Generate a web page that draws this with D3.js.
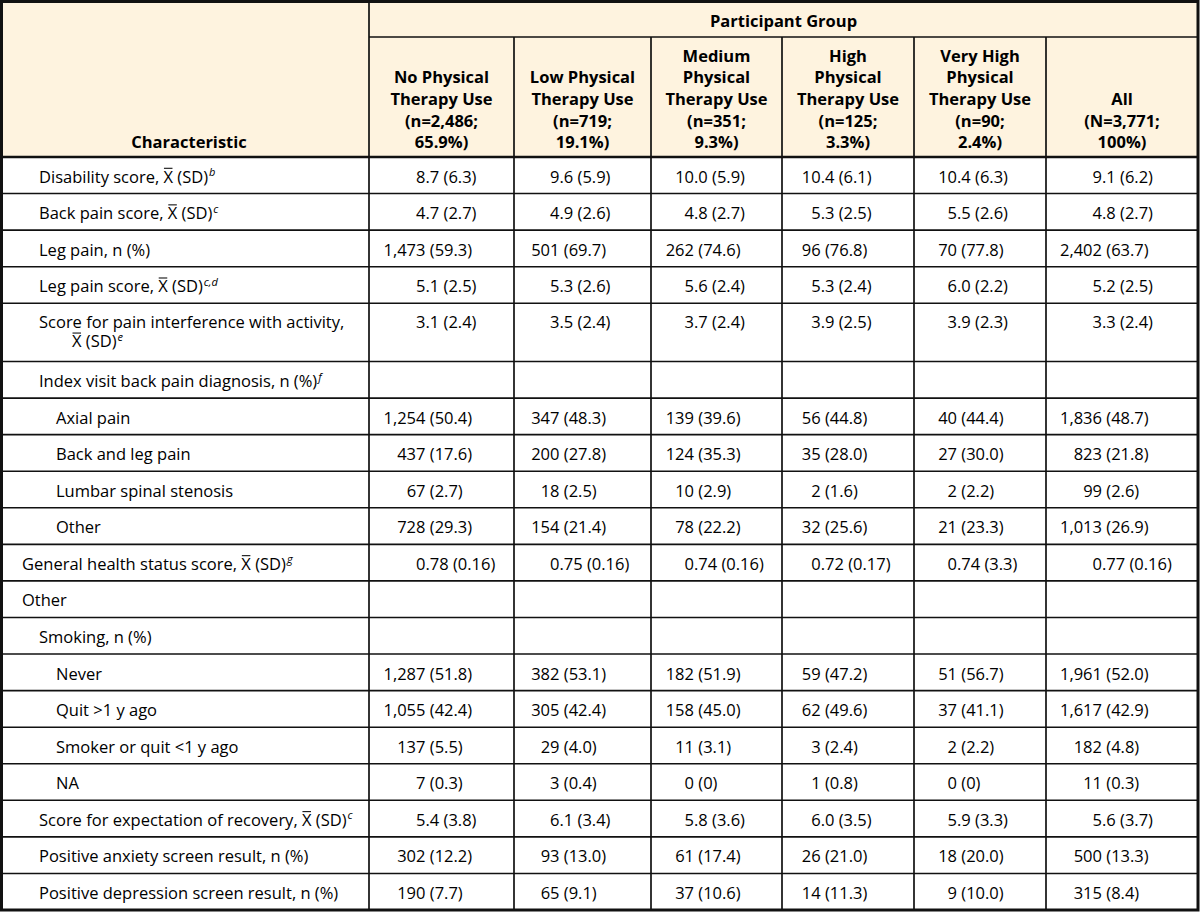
<!DOCTYPE html>
<html><head><meta charset="utf-8">
<script src="https://cdn.jsdelivr.net/npm/d3@7"></script>
<style>
body{margin:0;background:#fff}
text{font-family:"Open Sans",sans-serif;fill:#000}
</style>
</head><body>
<svg id="c" width="1200" height="912"></svg>
<script>
// ---------- DATA ----------
const groupTitle = "Participant Group";
const stubTitle = "Characteristic";
const groupLabels = [
  ["No Physical","Therapy Use","(n=2,486;","65.9%)"],
  ["Low Physical","Therapy Use","(n=719;","19.1%)"],
  ["Medium","Physical","Therapy Use","(n=351;","9.3%)"],
  ["High","Physical","Therapy Use","(n=125;","3.3%)"],
  ["Very High","Physical","Therapy Use","(n=90;","2.4%)"],
  ["All","(N=3,771;","100%)"]
];
const characteristics = [
  "Disability score, X̄ (SD)",
  "Back pain score, X̄ (SD)",
  "Leg pain, n (%)",
  "Leg pain score, X̄ (SD)",
  "Score for pain interference with activity,|X̄ (SD)",
  "Index visit back pain diagnosis, n (%)",
  "Axial pain",
  "Back and leg pain",
  "Lumbar spinal stenosis",
  "Other",
  "General health status score, X̄ (SD)",
  "Other",
  "Smoking, n (%)",
  "Never",
  "Quit >1 y ago",
  "Smoker or quit <1 y ago",
  "NA",
  "Score for expectation of recovery, X̄ (SD)",
  "Positive anxiety screen result, n (%)",
  "Positive depression screen result, n (%)"
];
const footnotes = ["b","c","","c,d","e","f","","","","","g","","","","","","","c","",""];
const levels    = [1,1,1,1,1,1,2,2,2,2,0,0,1,2,2,2,2,1,1,1];

const noPT   = ["8.7 (6.3)","4.7 (2.7)","1,473 (59.3)","5.1 (2.5)","3.1 (2.4)","","1,254 (50.4)","437 (17.6)","67 (2.7)","728 (29.3)","0.78 (0.16)","","","1,287 (51.8)","1,055 (42.4)","137 (5.5)","7 (0.3)","5.4 (3.8)","302 (12.2)","190 (7.7)"];
const lowPT  = ["9.6 (5.9)","4.9 (2.6)","501 (69.7)","5.3 (2.6)","3.5 (2.4)","","347 (48.3)","200 (27.8)","18 (2.5)","154 (21.4)","0.75 (0.16)","","","382 (53.1)","305 (42.4)","29 (4.0)","3 (0.4)","6.1 (3.4)","93 (13.0)","65 (9.1)"];
const medPT  = ["10.0 (5.9)","4.8 (2.7)","262 (74.6)","5.6 (2.4)","3.7 (2.4)","","139 (39.6)","124 (35.3)","10 (2.9)","78 (22.2)","0.74 (0.16)","","","182 (51.9)","158 (45.0)","11 (3.1)","0 (0)","5.8 (3.6)","61 (17.4)","37 (10.6)"];
const highPT = ["10.4 (6.1)","5.3 (2.5)","96 (76.8)","5.3 (2.4)","3.9 (2.5)","","56 (44.8)","35 (28.0)","2 (1.6)","32 (25.6)","0.72 (0.17)","","","59 (47.2)","62 (49.6)","3 (2.4)","1 (0.8)","6.0 (3.5)","26 (21.0)","14 (11.3)"];
const vhighPT= ["10.4 (6.3)","5.5 (2.6)","70 (77.8)","6.0 (2.2)","3.9 (2.3)","","40 (44.4)","27 (30.0)","2 (2.2)","21 (23.3)","0.74 (3.3)","","","51 (56.7)","37 (41.1)","2 (2.2)","0 (0)","5.9 (3.3)","18 (20.0)","9 (10.0)"];
const allPT  = ["9.1 (6.2)","4.8 (2.7)","2,402 (63.7)","5.2 (2.5)","3.3 (2.4)","","1,836 (48.7)","823 (21.8)","99 (2.6)","1,013 (26.9)","0.77 (0.16)","","","1,961 (52.0)","1,617 (42.9)","182 (4.8)","11 (0.3)","5.6 (3.7)","500 (13.3)","315 (8.4)"];
const series = [noPT, lowPT, medPT, highPT, vhighPT, allPT];

// ---------- LAYOUT ----------
const W = 1198, midLine = 37, headBottom = 157, bottom = 910;
const colEdges = [0, 369, 514, 651, 782, 914, 1046, 1198];
const decAnchor = [425.5, 559.5, 694, 820.7, 957, 1102]; // decimal alignment per value column
const FS = 16.5;
const cream = "#fef3df";

const svg = d3.select("#c");

const rowUnits = characteristics.map(c => c.includes("|") ? 1.594 : 1);
const cum = [0, ...d3.cumsum(rowUnits)];
const y = d3.scaleLinear().domain([0, d3.sum(rowUnits)]).range([headBottom, bottom]);
const x = d3.scaleOrdinal().domain(d3.range(colEdges.length)).range(colEdges);

svg.append("rect").attr("x",0).attr("y",0).attr("width",W).attr("height",headBottom).attr("fill",cream);

const lines = svg.append("g").attr("stroke","#111");
cum.slice(1,-1).forEach(u => {
  lines.append("line").attr("x1",0).attr("x2",W).attr("y1",y(u)).attr("y2",y(u)).attr("stroke-width",1.6);
});
lines.append("line").attr("x1",x(1)).attr("x2",x(1)).attr("y1",0).attr("y2",bottom).attr("stroke-width",1.7);
d3.range(2,7).forEach(i => {
  lines.append("line").attr("x1",x(i)).attr("x2",x(i)).attr("y1",midLine).attr("y2",bottom).attr("stroke-width",1.7);
});
lines.append("line").attr("x1",x(1)).attr("x2",W).attr("y1",midLine).attr("y2",midLine).attr("stroke-width",1.7);
lines.append("line").attr("x1",0).attr("x2",W).attr("y1",headBottom).attr("y2",headBottom).attr("stroke-width",2.6);
svg.append("rect").attr("x",1.5).attr("y",1.5).attr("width",W-1.5).attr("height",bottom-1.5)
  .attr("fill","none").attr("stroke","#111").attr("stroke-width",3);

const hdr = svg.append("g").attr("font-weight","bold").attr("font-size",FS).attr("text-anchor","middle");
hdr.append("text").attr("x",(x(1)+W)/2).attr("y",27.3).text(groupTitle);
hdr.append("text").attr("x",189).attr("y",148.3).text(stubTitle);
const lh = 21.7;
groupLabels.forEach((lab, i) => {
  const cx = (x(i+1)+x(i+2))/2;
  const t = hdr.append("text").attr("x",cx).attr("y",148.3 - (lab.length-1)*lh);
  lab.forEach((s, j) => {
    t.append("tspan").attr("x",cx).attr("dy", j ? lh : 0).text(s);
  });
});

const body = svg.append("g").attr("font-size",FS);
const indent = [22, 39, 56];
// one text element per label; wrapped lines are tspans
function label(segs, xx, yy, sup) {
  const t = body.append("text").attr("x",xx).attr("y",yy);
  const marks = [];
  let count = 0;
  segs.forEach((seg, li) => {
    const lineX = li ? xx + 33 : xx;
    const lineY = yy + li * 19.5;
    const parts = seg.split("X̄");
    let first = true;
    parts.forEach((p, k) => {
      const pieces = [];
      if (p) pieces.push([p, false]);
      if (k < parts.length-1) pieces.push(["X", true]);
      pieces.forEach(([txt, isX]) => {
        const ts = t.append("tspan").text(txt);
        if (first && li) ts.attr("x", lineX).attr("y", lineY);
        first = false;
        if (isX) marks.push([count, lineY]);
        count += txt.length;
      });
    });
  });
  if (sup) t.append("tspan").attr("font-size",11).attr("font-style","italic").attr("dx",1).attr("dy",-6.5).text(sup);
  const node = t.node();
  marks.forEach(([ci, ly]) => {
    const s = node.getStartPositionOfChar(ci).x, e = node.getEndPositionOfChar(ci).x;
    body.append("line").attr("x1",s+0.5).attr("x2",e-0.5).attr("y1",ly-14.2).attr("y2",ly-14.2)
      .attr("stroke","#111").attr("stroke-width",1.1);
  });
}
characteristics.forEach((c, r) => {
  const top = y(cum[r]);
  const segs = c.split("|");
  label(segs, indent[levels[r]], top + (segs.length > 1 ? 24.5 : 25.5), footnotes[r]);
});

const meas = svg.append("text").attr("font-size",FS).attr("visibility","hidden");
function width(s){ meas.text(s); return meas.node().getComputedTextLength(); }
series.forEach((vals, ci) => {
  vals.forEach((v, r) => {
    if (!v) return;
    const first = v.split(" ")[0];
    const intPart = first.split(".")[0];
    const xx = decAnchor[ci] - width(intPart);
    const base = y(cum[r]) + (rowUnits[r] > 1 ? 24.5 : 25.5);
    body.append("text").attr("x",xx).attr("y",base).text(v);
  });
});
meas.remove();
</script>
</body></html>
